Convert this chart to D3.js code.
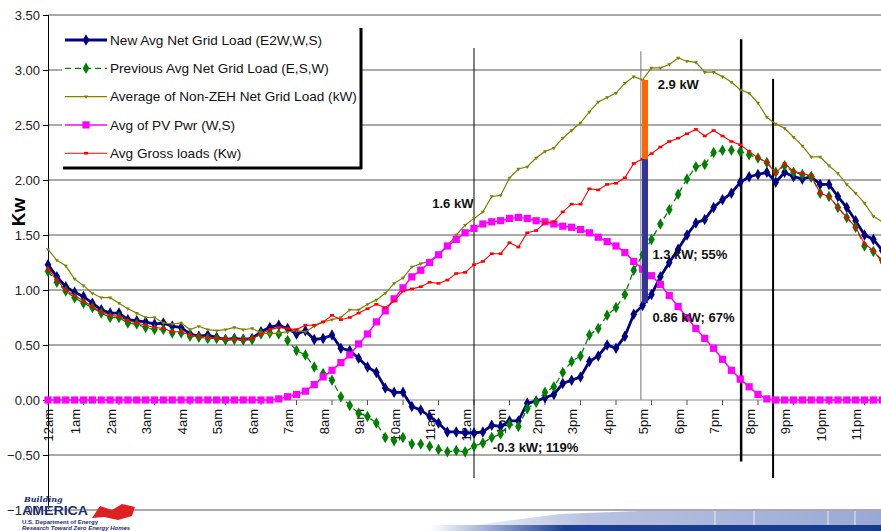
<!DOCTYPE html>
<html>
<head>
<meta charset="utf-8">
<script src="https://cdn.jsdelivr.net/npm/d3@7"></script>
<style>
  body { margin: 0; background: #fff; }
  svg { display: block; font-family: "Liberation Sans", Arial, sans-serif; }
</style>
</head>
<body>
<div id="wrapper"></div>
<script>
// 15-minute averages, 96 points per day (kW)
const hours = ["12am","1am","2am","3am","4am","5am","6am","7am","8am","9am","10am","11am",
  "12am","1pm","2pm","3pm","4pm","5pm","6pm","7pm","8pm","9pm","10pm","11pm"]

const newNet = [1.23,1.12,1.03,0.98,0.94,0.88,0.82,0.79,0.79,0.73,0.72,0.71,0.69,0.70,0.67,0.66,
  0.60,0.58,0.59,0.57,0.55,0.56,0.55,0.56,0.62,0.66,0.68,0.65,0.60,0.63,0.55,0.56,
  0.59,0.47,0.45,0.38,0.30,0.25,0.11,0.07,0.07,-0.06,-0.09,-0.15,-0.21,-0.29,-0.29,-0.30,
  -0.30,-0.29,-0.23,-0.24,-0.19,-0.19,-0.03,-0.01,0.02,0.05,0.15,0.18,0.21,0.35,0.40,0.50,
  0.47,0.58,0.78,0.86,0.96,1.12,1.25,1.37,1.50,1.61,1.64,1.75,1.82,1.88,1.98,2.03,
  2.05,2.07,1.98,2.07,2.03,2.01,2.03,1.96,1.96,1.85,1.75,1.63,1.50,1.46,1.36,1.28]

const prevNet = [1.17,1.07,0.99,0.93,0.88,0.84,0.79,0.75,0.75,0.70,0.69,0.66,0.64,0.64,0.61,0.61,
  0.58,0.57,0.56,0.56,0.55,0.55,0.55,0.55,0.60,0.61,0.60,0.54,0.45,0.41,0.30,0.24,
  0.18,0.03,-0.05,-0.12,-0.15,-0.21,-0.34,-0.37,-0.34,-0.40,-0.40,-0.42,-0.45,-0.47,-0.46,-0.47,
  -0.42,-0.39,-0.34,-0.31,-0.22,-0.24,-0.08,-0.02,0.07,0.12,0.25,0.35,0.40,0.59,0.65,0.77,
  0.84,0.96,1.18,1.32,1.46,1.60,1.73,1.87,2.01,2.12,2.14,2.25,2.27,2.27,2.26,2.23,
  2.20,2.16,2.07,2.13,2.07,2.05,2.03,1.88,1.85,1.75,1.66,1.57,1.40,1.35,1.27,1.20]

const nonZeh = [1.37,1.27,1.22,1.10,1.04,0.97,0.93,0.93,0.88,0.83,0.79,0.75,0.75,0.70,0.69,0.70,
  0.64,0.67,0.64,0.63,0.64,0.66,0.64,0.65,0.61,0.60,0.61,0.62,0.63,0.62,0.67,0.71,
  0.73,0.75,0.82,0.82,0.87,0.91,0.97,1.06,1.11,1.21,1.24,1.26,1.33,1.40,1.50,1.59,
  1.65,1.71,1.85,1.86,2.02,2.10,2.12,2.20,2.26,2.29,2.38,2.45,2.52,2.62,2.71,2.75,
  2.79,2.88,2.94,2.91,3.02,3.02,3.05,3.11,3.08,3.07,2.98,2.98,2.94,2.89,2.82,2.79,
  2.70,2.57,2.51,2.47,2.39,2.31,2.21,2.21,2.13,2.06,1.96,1.88,1.79,1.67,1.62,1.58]

const pvPwr = [0,0,0,0,0,0,0,0,0,0,0,0,0,0,0,0,
  0,0,0,0,0,0,0,0,0,0,0.01,0.03,0.05,0.08,0.14,0.21,
  0.27,0.34,0.41,0.51,0.60,0.71,0.81,0.92,1.02,1.12,1.18,1.25,1.32,1.40,1.46,1.52,
  1.56,1.60,1.62,1.63,1.65,1.66,1.65,1.63,1.62,1.60,1.58,1.57,1.55,1.52,1.48,1.44,
  1.40,1.34,1.26,1.19,1.13,1.05,0.95,0.85,0.75,0.65,0.56,0.47,0.37,0.27,0.19,0.12,
  0.05,0.01,0,0,0,0,0,0,0,0,0,0,0,0,0,0]

const gross = [1.19,1.09,1.00,0.95,0.90,0.85,0.80,0.77,0.76,0.72,0.70,0.68,0.66,0.65,0.62,0.62,
  0.59,0.58,0.57,0.56,0.56,0.55,0.55,0.56,0.60,0.64,0.66,0.65,0.64,0.68,0.68,0.71,
  0.77,0.73,0.75,0.79,0.83,0.87,0.84,0.90,0.99,1.01,1.03,1.07,1.06,1.09,1.15,1.16,
  1.23,1.26,1.33,1.33,1.43,1.39,1.52,1.54,1.61,1.62,1.71,1.78,1.78,1.92,1.91,1.96,
  1.97,2.02,2.15,2.19,2.24,2.30,2.35,2.38,2.42,2.46,2.40,2.45,2.40,2.35,2.32,2.26,
  2.20,2.16,2.06,2.15,2.08,2.06,2.04,1.88,1.85,1.75,1.66,1.57,1.42,1.36,1.25,1.18]

const yTicks = [-1, -0.5, 0, 0.5, 1, 1.5, 2, 2.5, 3, 3.5]

// marker lines, in (point index, kW)
const vLines = [
  {i: 48, top: 3.2, bottom: -0.71, color: "#000", w: 1},
  {i: 66.8, top: 3.17, bottom: 0, color: "#777", w: 1},
  {i: 78.1, top: 3.28, bottom: -0.56, color: "#000", w: 2.5},
  {i: 81.7, top: 2.92, bottom: -0.71, color: "#000", w: 2}
]
const barAt = 67.27
const barSegs = [
  {from: 2.91, to: 2.19, color: "#ff6600"},
  {from: 2.19, to: 0.88, color: "#333399"}
]
const notes = [
  {text: "2.9 kW", i: 68.7, v: 2.83},
  {text: "1.6 kW", i: 43.3, v: 1.75},
  {text: "1.3 kW; 55%", i: 68.1, v: 1.28},
  {text: "0.86 kW; 67%", i: 68.1, v: 0.71},
  {text: "-0.3 kW; 119%", i: 50.1, v: -0.47}
]

const W = 881, H = 531
const svg = d3.select("#wrapper").append("svg").attr("width", W).attr("height", H)

const x = d3.scaleLinear().domain([0, 96]).range([48, 48 + 96 * 8.875])
const y = d3.scaleLinear().domain([-1, 3.5]).range([510, 15])

// gridlines
svg.append("g").selectAll("line").data(yTicks).join("line")
  .attr("x1", 48).attr("x2", W)
  .attr("y1", d => y(d)).attr("y2", d => y(d))
  .attr("stroke", d => d === 0 ? "#888" : "#555").attr("stroke-width", 1)

// y axis
const yAxis = d3.axisLeft(y).tickValues(yTicks).tickFormat(d3.format(".2f")).tickSize(5)
const ya = svg.append("g").attr("transform", "translate(48,0)").call(yAxis)
ya.select(".domain").attr("stroke", "#000")
ya.selectAll(".tick line").attr("stroke", "#000")
ya.selectAll(".tick text").attr("font-size", 13).attr("fill", "#222")
  .attr("font-family", "Liberation Sans, Arial, sans-serif").attr("x", -8)

// x ticks at each hour, on the zero line
const hourIdx = d3.range(0, 96, 4)
svg.append("g").selectAll("line").data(hourIdx).join("line")
  .attr("x1", d => x(d)).attr("x2", d => x(d))
  .attr("y1", y(0)).attr("y2", y(0) + 5)
  .attr("stroke", "#555")
svg.append("g").selectAll("text").data(hourIdx).join("text")
  .attr("transform", d => `translate(${Math.max(48, x(d) - 8)},${y(0) + 9}) rotate(-90)`)
  .attr("text-anchor", "end").attr("dy", "0.35em")
  .attr("font-size", 13).attr("fill", "#111")
  .text((d, k) => hours[k])

// y title
svg.append("text").attr("transform", "translate(18,212) rotate(-90)")
  .attr("text-anchor", "middle").attr("dy", "0.35em")
  .attr("font-size", 19).attr("font-weight", "bold").text("Kw")

// vertical marker lines
svg.append("g").selectAll("line").data(vLines).join("line")
  .attr("x1", d => x(d.i)).attr("x2", d => x(d.i))
  .attr("y1", d => y(d.top)).attr("y2", d => y(d.bottom))
  .attr("stroke", d => d.color).attr("stroke-width", d => d.w)

const line = d3.line().x((d, i) => x(i)).y(d => y(d))

const diamond = d3.symbol().type(d3.symbolDiamond).size(38)

const series = [
  {name: "New Avg Net Grid Load (E2W,W,S)", data: newNet, color: "#000080", w: 2.8, dash: null, mark: "diamond"},
  {name: "Previous Avg Net Grid Load (E,S,W)", data: prevNet, color: "#008000", w: 1.3, dash: "6,4", mark: "diamond"},
  {name: "Average of Non-ZEH Net Grid Load (kW)", data: nonZeh, color: "#808000", w: 1.2, dash: null, mark: "tri"},
  {name: "Avg of PV Pwr (W,S)", data: pvPwr, color: "#ff00ff", w: 1.5, dash: null, mark: "square"},
  {name: "Avg Gross loads (Kw)", data: gross, color: "#ff0000", w: 1.1, dash: null, mark: "small"}
]

function drawMarks(g, s, pts) {
  if (s.mark === "diamond") {
    g.selectAll("path.m").data(pts).join("path").attr("class", "m")
      .attr("d", diamond).attr("transform", d => `translate(${d[0]},${d[1]})`)
      .attr("fill", s.color)
  } else if (s.mark === "square") {
    g.selectAll("rect.m").data(pts).join("rect").attr("class", "m")
      .attr("x", d => d[0] - 3.6).attr("y", d => d[1] - 3.6)
      .attr("width", 7.2).attr("height", 7.2).attr("fill", s.color)
  } else if (s.mark === "tri") {
    g.selectAll("path.m").data(pts).join("path").attr("class", "m")
      .attr("d", d3.symbol().type(d3.symbolTriangle).size(7))
      .attr("transform", d => `translate(${d[0]},${d[1]}) rotate(180)`)
      .attr("fill", s.color)
  } else {
    g.selectAll("rect.m").data(pts).join("rect").attr("class", "m")
      .attr("x", d => d[0] - 2).attr("y", d => d[1] - 1.3)
      .attr("width", 4).attr("height", 2.6).attr("fill", s.color)
  }
}

series.forEach(s => {
  const g = svg.append("g")
  g.append("path").datum(s.data).attr("d", line)
    .attr("fill", "none").attr("stroke", s.color).attr("stroke-width", s.w)
    .attr("stroke-dasharray", s.dash)
  drawMarks(g, s, s.data.map((v, i) => [x(i), y(v)]))
})

// stacked bar at ~5pm
svg.append("g").selectAll("rect").data(barSegs).join("rect")
  .attr("x", x(barAt) - 3).attr("width", 6)
  .attr("y", d => y(d.from)).attr("height", d => y(d.to) - y(d.from))
  .attr("fill", d => d.color)

// annotations
svg.append("g").selectAll("text").data(notes).join("text")
  .attr("x", d => x(d.i)).attr("y", d => y(d.v))
  .attr("font-size", 13).attr("font-weight", "bold").attr("fill", "#111")
  .text(d => d.text)

// legend
const lg = svg.append("g")
lg.append("rect").attr("x", 62).attr("y", 27).attr("width", 298).attr("height", 140).attr("fill", "#fff")
lg.append("line").attr("x1", 361).attr("x2", 361).attr("y1", 28).attr("y2", 169)
  .attr("stroke", "#000").attr("stroke-width", 3)
lg.append("line").attr("x1", 63).attr("x2", 362).attr("y1", 168).attr("y2", 168)
  .attr("stroke", "#000").attr("stroke-width", 3)
series.forEach((s, k) => {
  const ly = 40 + k * 28.3
  const g = lg.append("g")
  g.append("line").attr("x1", 65).attr("x2", 107).attr("y1", ly).attr("y2", ly)
    .attr("stroke", s.color).attr("stroke-width", s.w).attr("stroke-dasharray", s.dash)
  drawMarks(g, s, [[86, ly]])
  g.append("text").attr("x", 110).attr("y", ly).attr("dy", "0.35em")
    .attr("font-size", 13.6).attr("fill", "#111").text(s.name)
})

// footer: logo and banner
const ft = svg.append("g")
const grad = svg.append("defs").append("linearGradient").attr("id", "band")
grad.append("stop").attr("offset", "0%").attr("stop-color", "#fff")
grad.append("stop").attr("offset", "35%").attr("stop-color", "#b8c2e0")
grad.append("stop").attr("offset", "100%").attr("stop-color", "#9aa8d4")
ft.append("path").attr("d", "M430,531 L560,514 L640,511 L881,511 L881,531 Z").attr("fill", "url(#band)")
const grad2 = svg.select("defs").append("linearGradient").attr("id", "band2")
grad2.append("stop").attr("offset", "0%").attr("stop-color", "#fff")
grad2.append("stop").attr("offset", "30%").attr("stop-color", "#1b3f94")
grad2.append("stop").attr("offset", "100%").attr("stop-color", "#163a8c")
ft.append("rect").attr("x", 430).attr("y", 525).attr("width", 451).attr("height", 6).attr("fill", "url(#band2)")
ft.selectAll("line.sep").data([715, 754, 828, 855]).join("line").attr("class", "sep")
  .attr("x1", d => d).attr("x2", d => d).attr("y1", 511).attr("y2", 525)
  .attr("stroke", "#e8ecf6").attr("stroke-width", 1)
ft.append("path").attr("d", "M92,518 L100,506 L112,510 L122,504 L135,507 L132,516 L118,520 L104,517 Z").attr("fill", "#e02020")
ft.append("text").attr("x", 24).attr("y", 502).attr("font-size", 8).attr("font-style", "italic")
  .attr("font-weight", "bold").attr("fill", "#1b2f6e").attr("font-family", "DejaVu Serif").text("Building")
ft.append("text").attr("x", 22).attr("y", 515).attr("font-size", 13).attr("font-weight", "bold")
  .attr("fill", "#1b2f6e").attr("textLength", 66).attr("lengthAdjust", "spacingAndGlyphs")
  .attr("stroke", "#fff").attr("stroke-width", 0.6).attr("paint-order", "stroke").text("AMERICA")
ft.append("text").attr("x", 22).attr("y", 523.5).attr("font-size", 6).attr("font-weight", "bold")
  .attr("fill", "#1b2f6e").text("U.S. Department of Energy")
ft.append("text").attr("x", 22).attr("y", 530).attr("font-size", 6).attr("font-style", "italic")
  .attr("font-weight", "bold").attr("fill", "#1b2f6e").text("Research Toward Zero Energy Homes")
</script>
</body>
</html>
